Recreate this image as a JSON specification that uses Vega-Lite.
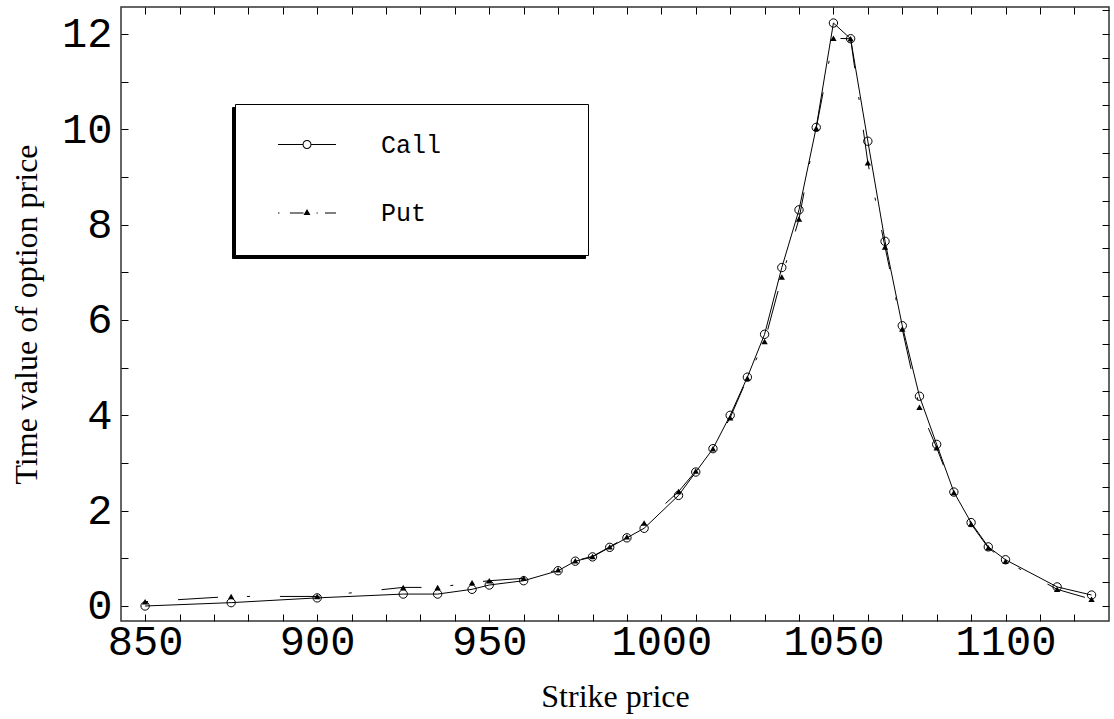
{
  "$schema": "https://vega.github.io/schema/vega-lite/v6.json",
  "width": 988,
  "height": 614,
  "autosize": "none",
  "padding": {"left": 121, "top": 7, "right": 5, "bottom": 98},
  "background": "white",
  "config": {
    "view": {"stroke": "#333", "strokeWidth": 1.5},
    "axis": {
      "domain": false, "grid": false, "tickColor": "black", "tickWidth": 1,
      "labelColor": "black", "titleColor": "black",
      "labelFont": "Liberation Mono", "labelFontSize": 42,
      "titleFont": "Liberation Serif", "titleFontSize": 32, "titleFontWeight": "normal",
      "tickSize": -7, "labelOverlap": false, "labelFlush": false
    }
  },
  "data": {
    "values": [
      {"K": 850, "series": "Call", "v": 0.00}, {"K": 875, "series": "Call", "v": 0.07},
      {"K": 900, "series": "Call", "v": 0.17}, {"K": 925, "series": "Call", "v": 0.25},
      {"K": 935, "series": "Call", "v": 0.25}, {"K": 945, "series": "Call", "v": 0.35},
      {"K": 950, "series": "Call", "v": 0.44}, {"K": 960, "series": "Call", "v": 0.53},
      {"K": 970, "series": "Call", "v": 0.74}, {"K": 975, "series": "Call", "v": 0.94},
      {"K": 980, "series": "Call", "v": 1.03}, {"K": 985, "series": "Call", "v": 1.23},
      {"K": 990, "series": "Call", "v": 1.43}, {"K": 995, "series": "Call", "v": 1.63},
      {"K": 1005, "series": "Call", "v": 2.32}, {"K": 1010, "series": "Call", "v": 2.81},
      {"K": 1015, "series": "Call", "v": 3.30}, {"K": 1020, "series": "Call", "v": 4.00},
      {"K": 1025, "series": "Call", "v": 4.80}, {"K": 1030, "series": "Call", "v": 5.70},
      {"K": 1035, "series": "Call", "v": 7.10}, {"K": 1040, "series": "Call", "v": 8.31},
      {"K": 1045, "series": "Call", "v": 10.04}, {"K": 1050, "series": "Call", "v": 12.23},
      {"K": 1055, "series": "Call", "v": 11.90}, {"K": 1060, "series": "Call", "v": 9.75},
      {"K": 1065, "series": "Call", "v": 7.65}, {"K": 1070, "series": "Call", "v": 5.88},
      {"K": 1075, "series": "Call", "v": 4.40}, {"K": 1080, "series": "Call", "v": 3.39},
      {"K": 1085, "series": "Call", "v": 2.39}, {"K": 1090, "series": "Call", "v": 1.75},
      {"K": 1095, "series": "Call", "v": 1.24}, {"K": 1100, "series": "Call", "v": 0.97},
      {"K": 1115, "series": "Call", "v": 0.40}, {"K": 1125, "series": "Call", "v": 0.23},
      {"K": 850, "series": "Put", "v": 0.09}, {"K": 875, "series": "Put", "v": 0.20},
      {"K": 900, "series": "Put", "v": 0.20}, {"K": 925, "series": "Put", "v": 0.39},
      {"K": 935, "series": "Put", "v": 0.39}, {"K": 945, "series": "Put", "v": 0.49},
      {"K": 950, "series": "Put", "v": 0.53}, {"K": 960, "series": "Put", "v": 0.58},
      {"K": 970, "series": "Put", "v": 0.76}, {"K": 975, "series": "Put", "v": 0.95},
      {"K": 980, "series": "Put", "v": 1.04}, {"K": 985, "series": "Put", "v": 1.24},
      {"K": 990, "series": "Put", "v": 1.45}, {"K": 995, "series": "Put", "v": 1.74},
      {"K": 1005, "series": "Put", "v": 2.40}, {"K": 1010, "series": "Put", "v": 2.83},
      {"K": 1015, "series": "Put", "v": 3.30}, {"K": 1020, "series": "Put", "v": 3.95},
      {"K": 1025, "series": "Put", "v": 4.78}, {"K": 1030, "series": "Put", "v": 5.55},
      {"K": 1035, "series": "Put", "v": 6.90}, {"K": 1040, "series": "Put", "v": 8.12},
      {"K": 1045, "series": "Put", "v": 10.02}, {"K": 1050, "series": "Put", "v": 11.91},
      {"K": 1055, "series": "Put", "v": 11.90}, {"K": 1060, "series": "Put", "v": 9.30},
      {"K": 1065, "series": "Put", "v": 7.53}, {"K": 1070, "series": "Put", "v": 5.81},
      {"K": 1075, "series": "Put", "v": 4.17}, {"K": 1080, "series": "Put", "v": 3.32},
      {"K": 1085, "series": "Put", "v": 2.38}, {"K": 1090, "series": "Put", "v": 1.72},
      {"K": 1095, "series": "Put", "v": 1.22}, {"K": 1100, "series": "Put", "v": 0.94},
      {"K": 1115, "series": "Put", "v": 0.35}, {"K": 1125, "series": "Put", "v": 0.14}
    ]
  },
  "layer": [
    {
      "transform": [{"filter": "datum.series === 'Call'"}],
      "mark": {"type": "line", "color": "black", "strokeWidth": 1},
      "encoding": {
        "x": {
          "field": "K", "type": "quantitative",
          "scale": {"domain": [843, 1130.07], "nice": false, "zero": false},
          "axis": {
            "orient": "bottom", "title": "Strike price", "format": "d",
            "values": [850,860,870,880,890,900,910,920,930,940,950,960,970,980,990,1000,1010,1020,1030,1040,1050,1060,1070,1080,1090,1100,1110,1120],
            "labelExpr": "datum.value % 50 === 0 ? datum.label : ''",
            "labelPadding": 7, "titlePadding": 19,
            "encode": {"ticks": {"update": {"y2": {"signal": "datum.value % 50 === 0 ? -7 : -4"}}}}
          }
        },
        "y": {
          "field": "v", "type": "quantitative",
          "scale": {"domain": [-0.315, 12.566], "nice": false, "zero": false},
          "axis": {
            "orient": "left", "title": "Time value of option price", "format": "d",
            "values": [0,0.5,1,1.5,2,2.5,3,3.5,4,4.5,5,5.5,6,6.5,7,7.5,8,8.5,9,9.5,10,10.5,11,11.5,12,12.5],
            "labelExpr": "datum.value % 2 === 0 ? datum.label : ''",
            "labelPadding": 16, "titlePadding": 18,
            "encode": {"ticks": {"update": {"x2": {"signal": "datum.value % 2 === 0 ? 7 : 4"}}}}
          }
        }
      }
    },
    {
      "transform": [{"filter": "datum.series === 'Put'"}],
      "mark": {"type": "line", "color": "black", "strokeWidth": 1, "strokeDash": [3, 30, 40, 29]},
      "encoding": {
        "x": {
          "field": "K", "type": "quantitative",
          "axis": {
            "orient": "top", "title": null, "labels": false,
            "values": [850,860,870,880,890,900,910,920,930,940,950,960,970,980,990,1000,1010,1020,1030,1040,1050,1060,1070,1080,1090,1100,1110,1120],
            "encode": {"ticks": {"update": {"y2": {"signal": "datum.value % 50 === 0 ? 7 : 4"}}}}
          }
        },
        "y": {
          "field": "v", "type": "quantitative",
          "axis": {
            "orient": "right", "title": null, "labels": false,
            "values": [0,0.5,1,1.5,2,2.5,3,3.5,4,4.5,5,5.5,6,6.5,7,7.5,8,8.5,9,9.5,10,10.5,11,11.5,12,12.5],
            "encode": {"ticks": {"update": {"x2": {"signal": "datum.value % 2 === 0 ? -7 : -4"}}}}
          }
        }
      }
    },
    {
      "transform": [{"filter": "datum.series === 'Call'"}],
      "mark": {"type": "point", "shape": "circle", "filled": false, "stroke": "black", "strokeWidth": 1, "size": 70, "opacity": 1},
      "encoding": {
        "x": {"field": "K", "type": "quantitative", "axis": null},
        "y": {"field": "v", "type": "quantitative", "axis": null}
      }
    },
    {
      "transform": [{"filter": "datum.series === 'Put'"}],
      "mark": {"type": "point", "shape": "triangle-up", "filled": true, "size": 40, "opacity": 1},
      "encoding": {
        "x": {"field": "K", "type": "quantitative", "axis": null},
        "y": {"field": "v", "type": "quantitative", "axis": null},
        "color": {
          "field": "series", "type": "nominal",
          "scale": {"domain": ["Put", "Call"], "range": ["black", "black"]},
          "legend": {
            "title": null, "orient": "none", "legendX": 111, "legendY": 100, "zindex": 1,
            "fillColor": "black", "strokeColor": "black", "padding": 11, "rowPadding": 5.5,
            "symbolSize": 3364, "symbolStrokeWidth": 1, "symbolStrokeColor": "black",
            "symbolType": "M0,-1M0,1M9.24,0M-1,0", "symbolOpacity": 1,
            "symbolOffset": 31.5, "labelOffset": 44.5, "labelLimit": 400,
            "labelFont": "Liberation Mono", "labelFontSize": 25, "labelColor": "black",
            "labelExpr": "'    '"
          }
        }
      }
    },
    {
      "mark": {"type": "point", "filled": true, "stroke": "black", "strokeWidth": 1, "size": 30, "opacity": 0},
      "encoding": {
        "x": {"field": "K", "type": "quantitative", "axis": null},
        "y": {"field": "v", "type": "quantitative", "axis": null},
        "shape": {
          "field": "series", "type": "nominal",
          "scale": {
            "domain": ["Call", "Put"],
            "range": [
              "M0,-1M0,1M9.24,0M-1,-0.018L-0.14,-0.018L-0.14,0.018L-1,0.018ZM0.14,-0.018L1,-0.018L1,0.018L0.14,0.018ZM-0.155,0A0.155,0.155,0,1,1,0.155,0A0.155,0.155,0,1,1,-0.155,0ZM-0.12,0A0.12,0.12,0,1,0,0.12,0A0.12,0.12,0,1,0,-0.12,0Z",
              "M0,-1M0,1M9.24,0M-1,-0.018L-0.95,-0.018L-0.95,0.018L-1,0.018ZM-0.59,-0.018L-0.12,-0.018L-0.12,0.018L-0.59,0.018ZM0.33,-0.018L0.37,-0.018L0.37,0.018L0.33,0.018ZM0.62,-0.018L1,-0.018L1,0.018L0.62,0.018ZM-0.12,0.07L0,-0.14L0.12,0.07Z"
            ]
          },
          "legend": {
            "title": null, "orient": "none", "legendX": 114, "legendY": 97, "zindex": 2,
            "fillColor": "white", "strokeColor": "black", "padding": 11, "rowPadding": 5.5,
            "symbolSize": 3364, "symbolStrokeWidth": 1, "symbolStrokeColor": "black", "symbolOpacity": 1,
            "symbolOffset": 31.5, "labelOffset": 44.5, "labelLimit": 400,
            "labelFont": "Liberation Mono", "labelFontSize": 25, "labelColor": "black"
          }
        },
        "fill": {
          "field": "series", "type": "nominal",
          "scale": {"domain": ["Call", "Put"], "range": ["black", "black"]},
          "legend": {
            "title": null, "orient": "none", "legendX": 114, "legendY": 97, "zindex": 2,
            "fillColor": "white", "strokeColor": "black", "padding": 11, "rowPadding": 5.5,
            "symbolSize": 3364, "symbolStrokeWidth": 1, "symbolStrokeColor": "black", "symbolOpacity": 1,
            "symbolOffset": 31.5, "labelOffset": 44.5, "labelLimit": 400,
            "labelFont": "Liberation Mono", "labelFontSize": 25, "labelColor": "black"
          }
        }
      }
    }
  ],
  "resolve": {"axis": {"x": "independent", "y": "independent"}}
}
